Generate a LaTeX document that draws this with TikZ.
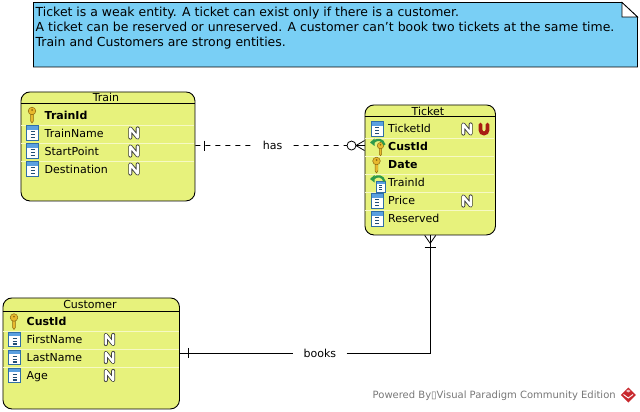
\documentclass[tikz,border=0pt]{standalone}
\usepackage{fontspec}
\setmainfont{DejaVu Sans}
\usetikzlibrary{calc}
\definecolor{entfill}{HTML}{E7F27C}
\definecolor{notefill}{HTML}{79CFF5}
\definecolor{sepcol}{HTML}{F6F9C4}
\definecolor{keygold}{HTML}{E8B92E}
\definecolor{keyedge}{HTML}{8F6A10}
\definecolor{colblue}{HTML}{5AA0E0}
\definecolor{coledge}{HTML}{2F6EA6}
\definecolor{fkgreen}{HTML}{2E9A4A}
\definecolor{markgray}{HTML}{777777}
\definecolor{ured}{HTML}{A81C12}
\definecolor{logored}{HTML}{C8282D}
\tikzset{
  x=1pt,y=-1pt,
  ent/.style={draw=black,line width=0.9pt,fill=entfill,rounded corners=9pt,inner sep=0pt},
  title/.style={anchor=base,inner sep=0pt,font=\fontsize{11}{13}\selectfont},
  rowtext/.style={anchor=base west,inner sep=0pt,font=\fontsize{11}{13}\selectfont},
  keytext/.style={anchor=base west,inner sep=0pt,font=\fontsize{11}{13}\selectfont\bfseries},
  sep/.style={draw=sepcol,line width=0.8pt},
  headrule/.style={draw=black,line width=0.8pt},
  conn/.style={draw=black,line width=0.8pt},
  rel/.style={inner sep=0pt,minimum height=12pt,fill=white,font=\fontsize{11}{13}\selectfont},
  pics/keyicon/.style={code={
    \draw[keyedge,fill=keygold,line width=0.5pt,line join=round]
      (-1.4,-1) -- (-1.4,6) -- (0,8) -- (1.4,6) -- (1.4,-1) -- cycle;
    \draw[keyedge,fill=keygold,line width=0.5pt] (0,-4) circle[radius=3.8];
    \fill[keyedge] (0,-5) circle[radius=1];
    \fill[keygold] (-1,0) rectangle (1,5);
  }},
  pics/colicon/.style={code={
    \fill[white] (-6,-7.2) rectangle (6,7.2);
    \fill[colblue] (-6,-7.2) rectangle (6,-3.2);
    \draw[coledge,line width=0.7pt] (-6,-7.2) rectangle (6,7.2);
    \foreach \yy in {-1.2,1.6,4.4}{\draw[coledge!70!black,line width=1.2pt] (-2,\yy) -- (2,\yy);}
  }},
  pics/fkarrow/.style={code={
    \draw[fkgreen,line width=2.3pt] (-0.5,-1) .. controls (3,-4.5) and (9,-4) .. (10.5,2);
    \fill[fkgreen] (-4,-0.5) -- (0.5,-4.5) -- (0.5,3) -- cycle;
  }},
  pics/nbadge/.style={code={
    \draw[black!75,line width=4pt,line join=round,line cap=round] (-3.7,4.6) -- (-3.7,-4.6) -- (3.7,4.6) -- (3.7,-4.6);
    \draw[white,line width=2.3pt,line join=round,line cap=round] (-3.7,4.6) -- (-3.7,-4.6) -- (3.7,4.6) -- (3.7,-4.6);
  }},
  pics/ubadge/.style={code={
    \draw[ured,line width=3.8pt,line cap=round] (-3.5,-4.5) -- (-3.5,1) arc[start angle=180,end angle=360,radius=3.5,y radius=-3.5] -- (3.5,-4.5);
  }},
}
\begin{document}
\begin{tikzpicture}
\useasboundingbox (0,0) rectangle (640,412);
% note
\draw[black,line width=0.8pt,fill=notefill] (33.5,2.5) -- (622,2.5) -- (637.5,17) -- (637.5,67) -- (33.5,67) -- cycle;
\draw[black,line width=0.8pt,fill=white] (622,2.5) -- (622,17) -- (637.5,17) -- cycle;
\node[anchor=north west,inner sep=0pt,align=left,font=\fontsize{12.45}{15}\selectfont] (note) at (35.5,7)
 {Ticket is a weak entity. A ticket can exist only if there is a customer.\\
  A ticket can be reserved or unreserved. A customer can't book two tickets at the same time.\\
  Train and Customers are strong entities.};
% entities
\node[ent,anchor=north west,minimum width=174pt,minimum height=109pt] (train) at (20.5,91.5) {};
\node[ent,anchor=north west,minimum width=130.5pt,minimum height=130pt] (ticket) at (364.5,104.5) {};
\node[ent,anchor=north west,minimum width=176.5pt,minimum height=111pt] (customer) at (2.5,297.5) {};
% train contents
\draw[headrule] (20.5,103.5) -- (194.5,103.5);
\foreach \yy in {125.5,143.5,161.5}{\draw[sep] (21,\yy) -- (194,\yy);}
\node[title] (trainT) at (106,102) {Train};
\pic at (32,115) {keyicon};
\node[keytext] (tr1) at (44.5,119) {TrainId};
\pic at (32.5,133) {colicon};
\node[rowtext] (tr2) at (44.5,137) {TrainName};
\pic at (134,133) {nbadge};
\pic at (32.5,151) {colicon};
\node[rowtext] (tr3) at (44.5,155) {StartPoint};
\pic at (134,151) {nbadge};
\pic at (32.5,169) {colicon};
\node[rowtext] (tr4) at (44.5,173) {Destination};
\pic at (134,169) {nbadge};
% ticket contents
\draw[headrule] (364.5,116.5) -- (494.5,116.5);
\foreach \yy in {138.5,156.5,174.5,192.5,210.5}{\draw[sep] (365,\yy) -- (494,\yy);}
\node[title] (ticketT) at (428,115) {Ticket};
\pic at (377,129) {colicon};
\node[rowtext] (ti1) at (388,132.5) {TicketId};
\pic at (467,129) {nbadge};
\pic at (484,129) {ubadge};
\pic[scale=0.85] at (380.5,149) {keyicon};
\pic at (374,143) {fkarrow};
\node[keytext] (ti2) at (388,150.5) {CustId};
\pic at (376.5,165) {keyicon};
\node[keytext] (ti3) at (388,168.5) {Date};
\pic[scale=0.75] at (380.5,186.5) {colicon};
\pic at (374,179.5) {fkarrow};
\node[rowtext] (ti4) at (388,186.5) {TrainId};
\pic at (377,201) {colicon};
\node[rowtext] (ti5) at (388,204.5) {Price};
\pic at (467,201) {nbadge};
\pic at (377,219) {colicon};
\node[rowtext] (ti6) at (388,222.5) {Reserved};
% customer contents
\draw[headrule] (2.5,311.5) -- (179,311.5);
\foreach \yy in {331.5,349.5,367.5}{\draw[sep] (3,\yy) -- (178.5,\yy);}
\node[title] (custT) at (90,308.5) {Customer};
\pic at (14,321.5) {keyicon};
\node[keytext] (cu1) at (26.5,325.5) {CustId};
\pic at (14.5,339.5) {colicon};
\node[rowtext] (cu2) at (26.5,343.5) {FirstName};
\pic at (109.5,339.5) {nbadge};
\pic at (14.5,357.5) {colicon};
\node[rowtext] (cu3) at (26.5,361.5) {LastName};
\pic at (109.5,357.5) {nbadge};
\pic at (14.5,375.5) {colicon};
\node[rowtext] (cu4) at (26.5,379.5) {Age};
\pic at (109.5,375.5) {nbadge};
% connectors
\coordinate (hasStart) at ($(train.east)+(0,-0.9)$);
\coordinate (hasEnd) at (ticket.west |- hasStart);
\coordinate (circ) at ($(hasEnd)+(-13,0)$);
\node[rel,minimum width=42pt] (has) at ($(hasStart)!0.456!(hasEnd)$) {has};
\draw[conn,dash pattern=on 5pt off 5pt] (hasStart) -- (has);
\draw[conn,dash pattern=on 5pt off 5pt] (has) -- (circ);
\draw[conn] ($(hasStart)+(8.5,-5)$) -- ++(0,10);
\draw[conn,fill=white] (circ) ++(4.5,0) arc[start angle=0,end angle=360,radius=4.5];
\draw[conn] ($(hasEnd)+(-8.5,0)$) -- (hasEnd);
\draw[conn] ($(hasEnd)+(-8.5,0)$) -- ++(8.5,-5);
\draw[conn] ($(hasEnd)+(-8.5,0)$) -- ++(8.5,5);
\coordinate (booksStart) at ($(customer.east)+(0,-0.5)$);
\coordinate (crow) at ($(ticket.south)+(0,8)$);
\node[rel,minimum width=53pt,anchor=center] (books) at ($(booksStart)+(140,0)$) {books};
\draw[conn] (booksStart) -- (books);
\draw[conn] (books) -| (crow) -- (ticket.south);
\draw[conn] ($(booksStart)+(8,-5)$) -- ++(0,10);
\draw[conn] ($(ticket.south)+(-5.5,12)$) -- ++(11,0);
\draw[conn] (crow) -- ++(-5.5,-8);
\draw[conn] (crow) -- ++(5.5,-8);
% watermark
\node[anchor=base west,inner sep=0pt,text=markgray,font=\fontsize{10}{12}\selectfont] (mark) at (372.5,398.5)
 {Powered By▯Visual Paradigm Community Edition};
\fill[logored] (628.3,387.5) -- (635.8,395) -- (628.3,402.5) -- (620.8,395) -- cycle;
\draw[white,line width=0.9pt] (623.5,394.5) -- (628.3,398) -- (633,394.5);
\fill[white!70!logored] (626,391) -- (628.3,389.5) -- (630.5,391) -- (628.3,392.5) -- cycle;
\end{tikzpicture}
\end{document}
